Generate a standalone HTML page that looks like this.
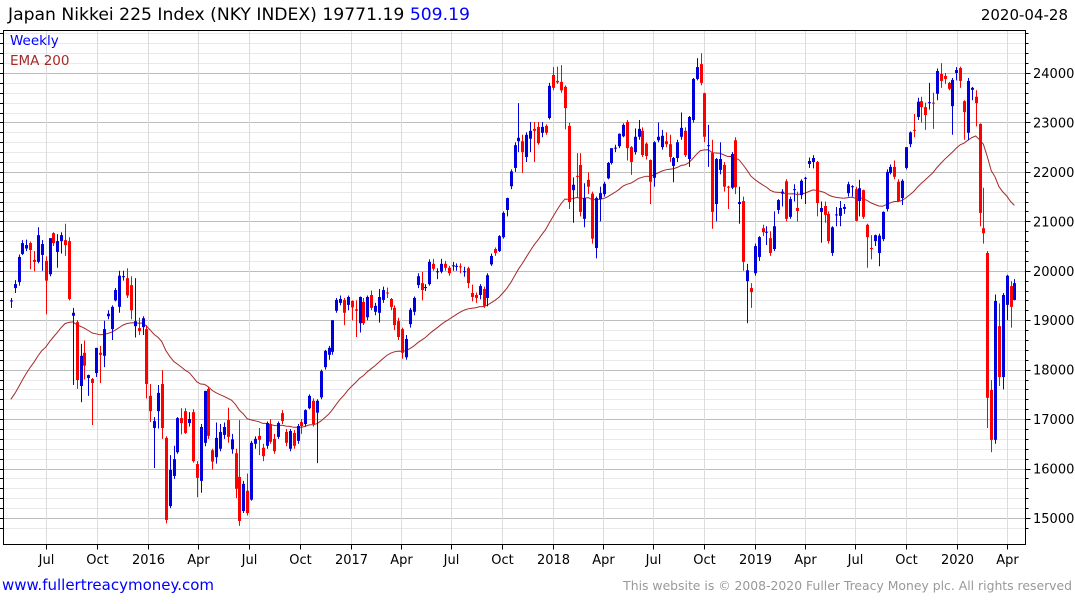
<!DOCTYPE html>
<html><head><meta charset="utf-8"><style>
html,body{margin:0;padding:0;background:#fff;}
body{width:1075px;height:600px;overflow:hidden;position:relative;font-family:"DejaVu Sans","Liberation Sans",sans-serif;}
svg text{font-family:"DejaVu Sans","Liberation Sans",sans-serif;}
</style></head><body>
<svg id="chart" width="1075" height="600" viewBox="0 0 1075 600" xmlns="http://www.w3.org/2000/svg">
<text x="8" y="20" font-size="17.2" fill="#000">Japan Nikkei 225 Index (NKY INDEX) 19771.19 <tspan fill="#0000ff">509.19</tspan></text>
<text x="1068" y="20" font-size="15" fill="#000" text-anchor="end">2020-04-28</text>
<g id="grid"></g>
<g id="ema"></g>
<g id="candles"></g>
<rect x="3.5" y="30.5" width="1022" height="514" fill="none" stroke="#000" stroke-width="1"/>
<g id="axes"></g>
<text x="10" y="45" font-size="13.5" fill="#0000ff">Weekly</text>
<text x="10" y="65" font-size="13.5" fill="#a52a2a">EMA 200</text>
<text x="2" y="590" font-size="15" fill="#0000ff">www.fullertreacymoney.com</text>
<text x="1072" y="590" font-size="12.4" fill="#999" text-anchor="end">This website is © 2008-2020 Fuller Treacy Money plc. All rights reserved</text>
</svg>
<script>
const opens=[19390,19650,19770,20340,20450,20560,20220,20180,20320,20200,19930,20760,20380,20600,20620,20600,19090,18960,17670,18340,17830,17810,17930,18340,18280,19080,18820,19400,19270,19870,19850,19710,18880,18840,18860,18820,17470,16820,17160,17710,16620,15240,15850,16330,17020,17160,16920,17140,16090,15750,16520,17610,16370,16230,16400,16680,16980,16390,16310,15830,15140,15550,15370,16500,16660,16420,16460,16900,16600,16640,17120,16740,16400,16720,16560,16940,16900,17220,17370,17130,17440,18050,18300,18360,19190,19350,19410,19310,19390,19220,18940,19370,19060,19510,19170,19150,19410,19560,19430,19250,18980,18820,18250,18920,19170,19710,19750,19660,19730,20140,19980,19980,20140,20060,20100,20100,20090,19980,20050,19550,19510,19510,19630,19450,20130,20440,20400,20680,21230,21710,22080,22620,22620,22300,22670,22870,22910,22790,22930,23090,23960,23840,23820,23720,22930,21630,21920,22140,21050,21840,21560,20460,21450,21550,21870,22180,22490,22520,22720,23010,22500,22400,22710,22830,22570,22240,21880,22640,22500,22620,22560,22120,22280,22710,22830,22260,23050,23880,24180,23590,22540,22380,21350,22040,22140,21700,21680,22640,21350,21410,19790,19650,19950,20280,20860,20780,20660,20440,21230,21560,21810,21090,21640,21270,21530,21880,22160,22200,22200,21190,21310,21150,20360,21130,21110,21250,21570,21700,21650,21410,21630,20930,20460,20600,20360,20640,21250,21980,22100,21800,21470,22080,22560,22850,23110,23430,23310,23390,23400,23580,23980,23940,23800,23330,24000,24100,23430,22790,23660,23520,22970,20860,20360,17590,16580,18880,17850,19310,19690,19410];
const highs=[19450,19810,20330,20620,20630,20590,20400,20880,20620,20290,20660,20780,20740,20780,20950,20680,19250,19000,18520,18590,17900,17830,18440,18480,18990,19200,19300,19650,20000,20000,20050,19890,19850,19050,19080,18900,17710,17040,17690,17990,16650,16270,16460,17040,17220,17220,17140,17200,16150,16900,17570,17650,16400,16930,16900,16930,17230,16700,16400,16980,15750,15900,16560,16650,16820,16500,16950,17000,16700,16950,17180,16800,16800,16780,16900,17000,17200,17500,17420,17400,18000,18400,18480,19000,19450,19500,19450,19500,19400,19400,19480,19450,19500,19600,19350,19630,19680,19660,19450,19300,19050,18850,18700,19250,19480,19950,19980,19730,20230,20240,20050,20240,20200,20100,20180,20150,20150,20080,20080,19720,19560,19730,19680,19950,20350,20470,20720,21200,21480,22050,22600,23390,22750,22800,23010,23010,23010,23010,22960,23800,24120,24130,24160,23750,22990,21890,22380,22380,21770,21990,21600,21500,21700,21800,22200,22480,22550,22780,22980,23050,22520,22880,23050,22900,22600,22250,22620,23000,22850,22800,22750,22300,22650,23200,22900,23130,23900,24300,24400,23600,22950,22650,22280,22600,22200,21720,22400,22700,21700,21500,20140,19750,20550,20700,20930,20900,20800,21200,21450,21650,21850,21500,21750,21600,21850,21900,22290,22340,22220,21400,21400,21200,20900,21290,21410,21350,21800,21730,21700,21840,21640,20950,20720,20730,20750,21200,22050,22150,22230,21850,21850,22500,22820,23170,23500,23520,23400,23800,23600,24090,24200,24000,23820,23900,24120,24130,23450,23900,23720,23650,22980,21680,20400,17790,19520,19340,19550,19920,19790,19830];
const lows=[19250,19550,19700,20320,20400,20030,19990,20150,20000,19120,19890,20500,20060,20350,20300,19400,17690,17610,17340,17800,17470,16880,17850,17730,18050,19020,18600,19380,19150,19800,19450,19020,18650,18700,18700,17420,16940,16010,16810,16600,14890,15200,15790,16300,16690,16700,16850,16120,15420,15510,16450,16600,15980,16100,16350,16600,16520,16300,15400,14840,15100,15050,15350,16400,16270,16150,16400,16500,16300,16600,16900,16450,16350,16400,16500,16700,16850,17200,16850,16110,17400,18000,18200,18300,19150,19300,18900,19200,19000,18660,18750,18900,19000,19200,19100,18950,19350,19450,19200,18800,18600,18220,18200,18850,19100,19650,19400,19590,19700,20000,19830,19950,20000,19900,20000,20000,19950,19880,19650,19380,19350,19420,19250,19280,20100,20300,20380,20650,21100,21650,22000,22400,21980,22200,22400,22200,22550,22700,22750,23060,23650,23780,23600,22860,21250,20970,21470,21100,20880,21550,20550,20250,21000,21500,21850,22150,22400,22480,22700,22230,21940,22350,22650,22300,22250,21350,21700,22600,22450,22500,22200,21790,22200,22650,22300,22100,23000,23850,23750,22600,22100,20850,21000,21950,21600,21250,21650,21550,20950,20000,18940,19250,19900,20200,20700,20520,20300,20400,21150,21300,21000,21050,21400,21000,21450,21350,22080,22070,21100,20570,20970,20550,20300,20900,20900,21150,21500,21500,21000,21100,21050,20060,20230,20500,20090,20600,21200,21950,21850,21410,21330,22050,22500,22700,23050,23000,22850,23260,22870,23450,23700,23780,23650,22750,23850,23700,22650,22640,23450,22920,20900,20550,16820,16330,16500,17670,17600,19000,18850,19400];
const closes=[19400,19730,20280,20560,20520,20420,20180,20720,20540,19800,20660,20560,20600,20720,20520,19430,19150,17790,18280,18080,17890,17730,18440,18300,18820,19130,19270,19610,19900,19890,19500,19200,18980,18780,19040,17710,17160,16960,17530,16820,14960,15970,16190,17020,16920,16720,17000,16150,15810,16840,17570,16660,16140,16620,16740,16840,16640,16590,15590,14940,15690,15100,16520,16600,16580,16250,16920,16540,16350,16920,16960,16520,16760,16460,16860,16860,17180,17470,16900,17370,17970,18380,18440,19000,19410,19430,19150,19470,19260,19190,19470,18940,19470,19250,19290,19470,19610,19540,19270,18900,18660,18340,18620,19210,19450,19890,19610,19670,20180,20040,19990,20140,20060,19950,20110,20100,20080,19990,19750,19470,19450,19690,19290,19910,20300,20360,20700,21170,21470,22010,22540,22690,22400,22750,22830,22830,22580,22910,22790,23740,23700,23810,23650,23290,21390,21740,21900,21190,21470,21700,20650,21470,21570,21760,22180,22480,22490,22770,22950,22480,22200,22710,22870,22340,22320,21800,22600,22710,22730,22560,22300,22280,22600,22890,22340,23110,23880,24120,23800,22710,22540,21190,22260,22260,21700,21680,22360,21690,21390,20180,20010,19570,20500,20680,20780,20790,20360,20900,21430,21600,21050,21450,21650,21210,21820,21880,22220,22280,21370,21270,21130,20600,20880,21140,21270,21290,21750,21710,21010,21670,21090,20680,20450,20720,20710,21190,22000,22100,21900,21410,21820,22500,22800,22840,23420,23310,23150,23410,23390,24040,23840,23880,23680,23860,24060,23840,23210,23840,23700,23390,21170,20760,17430,16580,19390,17850,19510,19900,19270,19750];
const priceTicks=[15000,16000,17000,18000,19000,20000,21000,22000,23000,24000];
const xTickLabels=["","Jul","Oct","2016","Apr","Jul","Oct","2017","Apr","Jul","Oct","2018","Apr","Jul","Oct","2019","Apr","Jul","Oct","2020","Apr"];
const xTickDates=["2015-04-01","2015-07-01","2015-10-01","2016-01-01","2016-04-01","2016-07-01","2016-10-01","2017-01-01","2017-04-01","2017-07-01","2017-10-01","2018-01-01","2018-04-01","2018-07-01","2018-10-01","2019-01-01","2019-04-01","2019-07-01","2019-10-01","2020-01-01","2020-04-01"];
const emaPeriod=40;
const emaSeed=17400;

const NS="http://www.w3.org/2000/svg";
const PL=3.5,PR=1025.5,PT=30.5,PB=544.5;
function yScale(p){return 73+(24000-p)*0.04944;}
const D0=Date.UTC(2015,3,28),X0=10.8,WK=3.875;
function xIndex(i){return X0+i*WK;}
function xDate(s){const d=Date.parse(s+"T00:00:00Z");return X0+(d-D0)/(7*86400000)*WK;}
function mk(tag,attrs,parent){const e=document.createElementNS(NS,tag);for(const k in attrs)e.setAttribute(k,attrs[k]);parent.appendChild(e);return e;}
const grid=document.getElementById('grid'),axes=document.getElementById('axes'),cg=document.getElementById('candles'),eg=document.getElementById('ema');

for(let p=14800;p<=24800;p+=200){
  const y=Math.round(yScale(p))+0.5;
  if(y<=PT||y>=PB)continue;
  const major=p%1000===0;
  const ln=mk('line',{x1:PL,x2:PR,y1:y,y2:y,stroke:major?'#bdbdbd':'#e9e9e9','stroke-width':1},grid);
  
  
  const tk=mk('line',{x1:PR,x2:PR+(major?5:3),y1:y,y2:y,stroke:'#000','stroke-width':1},axes);
  
  
  const tl=mk('line',{x1:0,x2:PL,y1:y,y2:y,stroke:'#000','stroke-width':1},axes);
  
  
}
priceTicks.forEach(p=>{
  const t=mk('text',{x:1033,y:yScale(p)+5,'font-size':13,fill:'#000'},axes);
  t.textContent=String(p);
  
  
});
xTickDates.forEach((d,k)=>{
  const x=Math.round(xDate(d))+0.5;
  const ln=mk('line',{x1:x,x2:x,y1:PT,y2:PB,stroke:'#dcdcdc','stroke-width':1},grid);
  
  
  const tk=mk('line',{x1:x,x2:x,y1:PB,y2:PB+5,stroke:'#000','stroke-width':1},axes);
  
  
  if(xTickLabels[k]){
    const t=mk('text',{x:x,y:564,'font-size':13,fill:'#000','text-anchor':'middle'},axes);
    t.textContent=xTickLabels[k];
    
    
  }
});
for(let i=0;i<closes.length;i++){
  const x=Math.round(xIndex(i));
  const up=closes[i]>=opens[i];
  const col=up?'#0000dd':'#ff0000';
  const w=mk('line',{x1:x+0.5,x2:x+0.5,y1:yScale(highs[i]),y2:yScale(lows[i]),stroke:col,'stroke-width':1},cg);
  
  
  const yt=yScale(Math.max(opens[i],closes[i])),yb=yScale(Math.min(opens[i],closes[i]));
  const b=mk('rect',{x:x-1,y:yt,width:3,height:Math.max(1,yb-yt),fill:col},cg);
  
  
}
let ema=emaSeed;const a=2/(emaPeriod+1);let pts=[];
for(let i=0;i<closes.length;i++){
  if(i>0)ema=ema+a*(closes[i]-ema);
  pts.push(xIndex(i).toFixed(1)+','+yScale(ema).toFixed(1));
}
const pl=mk('polyline',{points:pts.join(' '),fill:'none',stroke:'#a52a2a','stroke-width':1},eg);


</script>
</body></html>
